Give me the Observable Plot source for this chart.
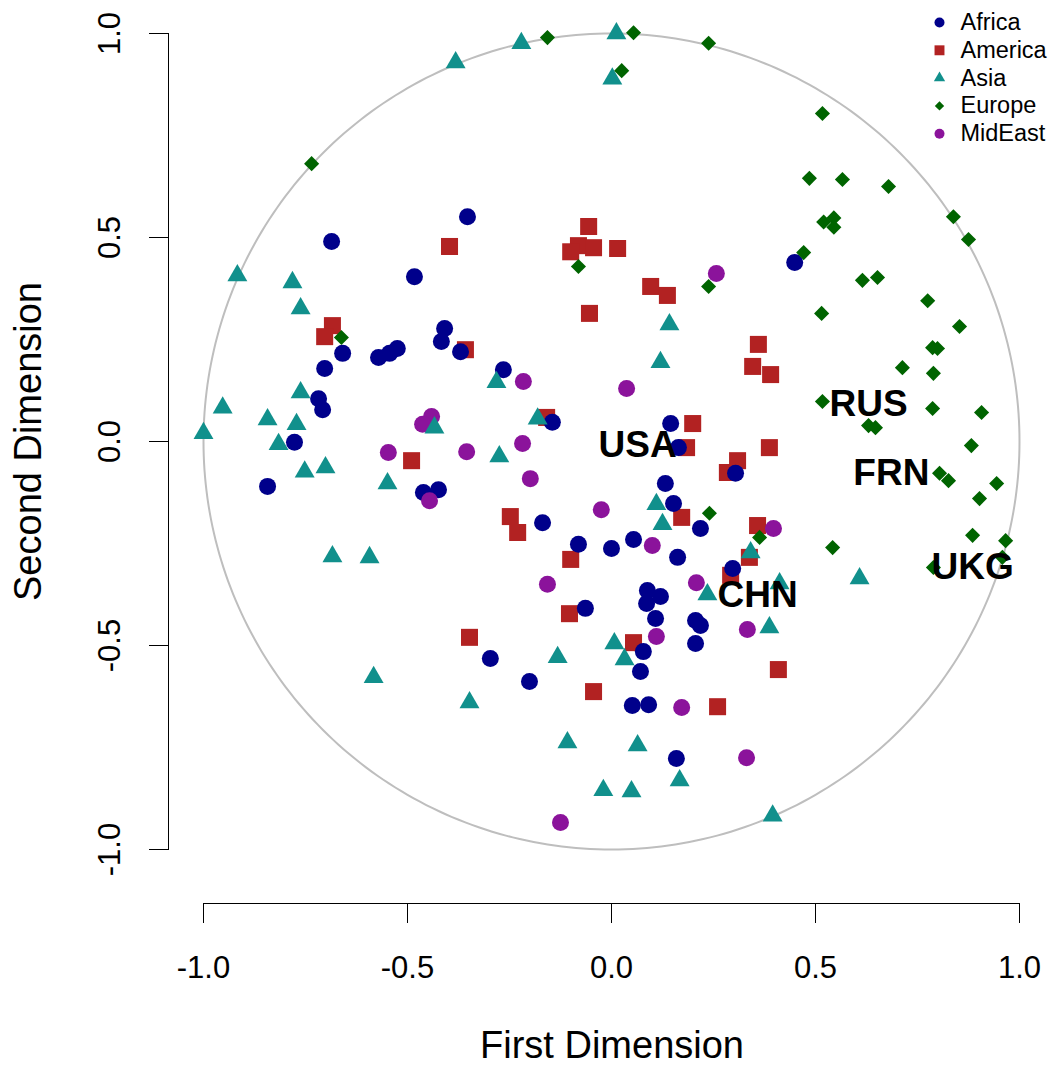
<!DOCTYPE html>
<html>
<head>
<meta charset="utf-8">
<script src="https://cdn.jsdelivr.net/npm/d3@7"></script>
<script src="https://cdn.jsdelivr.net/npm/@observablehq/plot@0.6"></script>
<style>
  html, body { margin: 0; padding: 0; background: #ffffff; }
  #chart { width: 1050px; height: 1068px; }
</style>
</head>
<body>
<div id="chart"></div>
<script>
// ---- categories and styling keys ----
const groups = ["Africa", "America", "Asia", "Europe", "MidEast"];
const groupColors = ["#00008B", "#B22222", "#11908c", "#006400", "#8b139b"];
const groupSymbols = ["circle", "square", "triangle", "diamond2", "circle"];

// ---- series values: [First Dimension, Second Dimension] ----
const africa = [
  [-0.353, 0.551], [-0.686, 0.490], [-0.483, 0.404], [0.449, 0.439],
  [-0.659, 0.216], [-0.703, 0.179], [-0.571, 0.206], [-0.544, 0.216], [-0.525, 0.228],
  [-0.409, 0.277], [-0.417, 0.245], [-0.370, 0.220],
  [-0.718, 0.105], [-0.708, 0.078], [-0.777, -0.002], [-0.843, -0.110],
  [-0.461, -0.125], [-0.424, -0.118],
  [-0.265, 0.176], [-0.145, 0.047], [0.145, 0.044], [0.164, -0.015],
  [0.304, -0.078], [0.132, -0.103], [0.152, -0.152], [0.218, -0.213], [-0.169, -0.199],
  [-0.081, -0.252], [0.000, -0.262], [0.054, -0.240], [0.162, -0.284], [0.297, -0.311],
  [0.088, -0.365], [0.120, -0.380], [0.086, -0.397], [0.108, -0.434], [0.206, -0.439],
  [0.218, -0.451], [0.206, -0.495],
  [-0.064, -0.409], [-0.297, -0.532], [0.078, -0.515], [0.071, -0.564], [-0.201, -0.588],
  [0.051, -0.647], [0.091, -0.645], [0.159, -0.777]
];
const america = [
  [-0.397, 0.478], [-0.056, 0.527], [-0.081, 0.480], [-0.100, 0.465], [-0.044, 0.475], [0.015, 0.473],
  [0.096, 0.380], [0.137, 0.358], [-0.054, 0.314],
  [-0.684, 0.284], [-0.703, 0.257], [-0.358, 0.225],
  [0.360, 0.238], [0.346, 0.184], [0.390, 0.164],
  [-0.490, -0.047], [-0.159, 0.059],
  [0.199, 0.044], [0.184, -0.015], [0.387, -0.015], [0.309, -0.047], [0.284, -0.076],
  [0.172, -0.186], [-0.248, -0.184], [-0.230, -0.223], [0.358, -0.206], [0.338, -0.284], [-0.100, -0.289],
  [0.292, -0.328], [-0.103, -0.422], [-0.348, -0.480], [0.054, -0.493], [0.409, -0.559],
  [-0.044, -0.613], [0.260, -0.650]
];
const asia = [
  [-0.382, 0.929], [-0.221, 0.976], [0.012, 1.000], [0.002, 0.889],
  [-0.917, 0.407], [-0.782, 0.390], [-0.762, 0.326],
  [0.142, 0.287], [0.120, 0.194], [-0.282, 0.145], [-0.181, 0.056],
  [-0.762, 0.120], [-0.953, 0.083], [-1.000, 0.020], [-0.843, 0.054], [-0.772, 0.042], [-0.816, -0.007],
  [-0.752, -0.074], [-0.701, -0.064], [-0.434, 0.034], [-0.549, -0.103], [-0.275, -0.037],
  [-0.684, -0.282], [-0.593, -0.284], [-0.583, -0.578],
  [0.110, -0.154], [0.125, -0.203], [0.341, -0.272], [0.235, -0.375], [0.412, -0.348],
  [0.608, -0.336], [0.387, -0.456],
  [-0.132, -0.529], [0.007, -0.495], [0.032, -0.534], [-0.348, -0.640], [-0.108, -0.738],
  [0.064, -0.745], [0.167, -0.831], [-0.020, -0.855], [0.049, -0.858], [0.395, -0.917]
];
const europe = [
  [-0.735, 0.681], [-0.157, 0.990], [0.054, 1.002], [0.238, 0.976], [0.025, 0.909],
  [-0.081, 0.429], [0.238, 0.380], [-0.662, 0.255],
  [0.517, 0.804], [0.485, 0.645], [0.566, 0.642], [0.679, 0.625], [0.838, 0.551], [0.875, 0.495],
  [0.520, 0.538], [0.545, 0.548], [0.545, 0.525], [0.471, 0.463],
  [0.615, 0.395], [0.652, 0.402], [0.775, 0.345],
  [0.515, 0.314], [0.853, 0.282], [0.787, 0.230], [0.799, 0.228], [0.713, 0.181], [0.789, 0.167],
  [0.517, 0.098], [0.787, 0.081], [0.907, 0.071], [0.630, 0.039], [0.647, 0.034],
  [0.882, -0.010], [0.804, -0.078], [0.826, -0.096], [0.944, -0.103], [0.902, -0.140],
  [0.885, -0.230], [0.966, -0.243], [0.958, -0.284], [0.789, -0.309],
  [0.240, -0.176], [0.363, -0.235], [0.542, -0.260]
];
const mideast = [
  [0.257, 0.412], [-0.441, 0.061], [-0.463, 0.042], [-0.547, -0.027], [-0.355, -0.025], [-0.446, -0.145],
  [-0.216, 0.147], [0.037, 0.130], [-0.218, -0.005], [-0.199, -0.091], [-0.025, -0.167], [0.100, -0.255],
  [0.397, -0.213], [-0.157, -0.350], [0.208, -0.346], [0.110, -0.478], [0.333, -0.461],
  [0.172, -0.652], [0.331, -0.775], [-0.125, -0.934]
];

// ---- country labels ----
const labelNames = ["USA", "RUS", "FRN", "UKG", "CHN"];
const labelX = [0.064, 0.630, 0.686, 0.885, 0.358];
const labelY = [-0.010, 0.091, -0.078, -0.309, -0.377];

// ---- tick labels and titles ----
const xTicks = [-1.0, -0.5, 0.0, 0.5, 1.0];
const yTicks = [-1.0, -0.5, 0.0, 0.5, 1.0];
const xTitle = "First Dimension";
const yTitle = "Second Dimension";

// ---- build tables ----
const series = [africa, america, asia, europe, mideast];
const groupR = [8.5, 9.6, 7.4, 6.8, 8.5];
const legendR = [5, 5.6, 4.2, 4.2, 5];
const points = [];
series.forEach((arr, gi) => arr.forEach(([x, y]) => points.push({x, y, group: groups[gi], r: groupR[gi]})));
const labelData = labelNames.map((t, i) => ({t, x: labelX[i], y: labelY[i]}));
const circlePts = d3.range(0, 361).map(a => ({x: Math.cos(a * Math.PI / 180), y: Math.sin(a * Math.PI / 180)}));
const fmt = d => d.toFixed(1);

const legendMarks = [];
groups.forEach((g, i) => {
  legendMarks.push(Plot.dot([g], {frameAnchor: "top-right", dx: -96, dy: 5 + i * 27.8, fill: d => d, symbol: d => d, r: legendR[i]}));
  legendMarks.push(Plot.text([g], {frameAnchor: "top-right", dx: -75, dy: 5 + i * 27.8, text: d => d, textAnchor: "start", lineAnchor: "middle", fontSize: 23.5, fill: "#000"}));
});

const chart = Plot.plot({
  width: 1050,
  height: 1068,
  marginLeft: 168,
  marginRight: 15,
  marginTop: 17,
  marginBottom: 165,
  x: {domain: [-1, 1], range: [203, 1019], axis: null},
  y: {domain: [-1, 1], range: [849, 33], axis: null},
  color: {domain: groups, range: groupColors},
  symbol: {domain: groups, range: groupSymbols},
  r: {type: "identity"},
  style: {fontFamily: "'Liberation Sans', Arial, sans-serif", background: "#ffffff", color: "#000"},
  marks: [
    // unit circle
    Plot.line(circlePts, {x: "x", y: "y", stroke: "#BEBEBE", strokeWidth: 2}),
    // axes (R style, detached)
    Plot.ruleX([xTicks[0]], {y1: yTicks[0], y2: yTicks[yTicks.length - 1], dx: -35, stroke: "#000", strokeWidth: 1}),
    Plot.tickY(yTicks, {y: d => d, insetLeft: -19, insetRight: 866, stroke: "#000", strokeWidth: 1}),
    Plot.text(yTicks, {y: d => d, text: fmt, frameAnchor: "left", dx: -58, rotate: -90, textAnchor: "middle", lineAnchor: "middle", fontSize: 31, fill: "#000"}),
    Plot.ruleY([yTicks[0]], {x1: xTicks[0], x2: xTicks[xTicks.length - 1], dy: 54, stroke: "#000", strokeWidth: 1}),
    Plot.tickX(xTicks, {x: d => d, insetTop: 886, insetBottom: -20, stroke: "#000", strokeWidth: 1}),
    Plot.text(xTicks, {x: d => d, text: fmt, frameAnchor: "bottom", dy: 65, textAnchor: "middle", lineAnchor: "middle", fontSize: 31, fill: "#000"}),
    Plot.text([xTitle], {frameAnchor: "bottom", dx: 10, dy: 142, text: d => d, textAnchor: "middle", lineAnchor: "middle", fontSize: 38, fill: "#000"}),
    Plot.text([yTitle], {frameAnchor: "left", dx: -140, dy: -19, rotate: -90, text: d => d, textAnchor: "middle", lineAnchor: "middle", fontSize: 38, fill: "#000"}),
    // points
    Plot.dot(points, {x: "x", y: "y", fill: "group", symbol: "group", r: "r", stroke: "none"}),
    // country labels
    Plot.text(labelData, {x: "x", y: "y", text: "t", fontSize: 37, fontWeight: "bold", fill: "#000", textAnchor: "middle", lineAnchor: "middle"}),
    // legend
    ...legendMarks
  ]
});
document.getElementById("chart").appendChild(chart);
</script>
</body>
</html>
